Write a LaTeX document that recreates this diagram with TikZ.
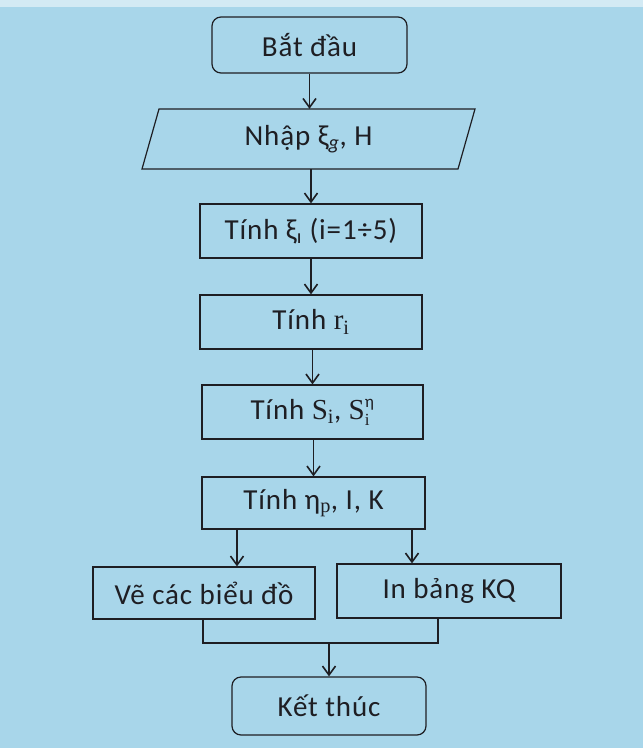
\documentclass[tikz,border=0pt]{standalone}
\usepackage{fontspec}
\setmainfont{Carlito}
\newfontfamily\serifm{Liberation Serif}
\usetikzlibrary{arrows.meta}
\definecolor{bg}{RGB}{168,214,234}
\definecolor{ink}{RGB}{30,30,35}
\newcommand{\sbs}[1]{\textsubscript{#1}}
\newcommand{\smallt}[1]{\hbox{\fontsize{17}{17}\selectfont #1}}
\begin{document}
\begin{tikzpicture}[x=1pt,y=-1pt,
  box/.style={draw=ink,line width=1.2pt,minimum width=#1,inner sep=0pt,
    font=\fontsize{29}{32}\selectfont\addfontfeature{LetterSpace=3},text=ink},
  box/.default=222pt,
  term/.style={box=#1,rounded corners=9pt},
  arr/.style={draw=ink,line width=1.6pt,-{Straight Barb[length=9pt,width=13pt,line width=1.6pt]}},
  ln/.style={draw=ink,line width=1.3pt}]
\useasboundingbox (0,0) rectangle (643,748);
\fill[bg] (0,0) rectangle (643,748);
\fill[white,opacity=0.5] (0,0) rectangle (643,7);

\node[term=195pt,minimum height=56pt] (start) at (309.5,45) {Bắt đầu};
\node[inner sep=0pt,minimum width=316pt,minimum height=60pt,
  font=\fontsize{29}{32}\selectfont\addfontfeature{LetterSpace=3},text=ink] (input) at (308.5,139) {Nhập ξ\sbs{\itshape g}, H};
\draw[ln,line width=1.2pt] (159,109) -- (475,109) -- (458,169) -- (142,169) -- cycle;
\node[box=222pt,minimum height=54pt] (xi) at (311,231) {Tính ξ\sbs{ı} (i=1÷5)};
\node[box=222pt,minimum height=54pt] (r) at (311,322) {Tính {\serifm r}\sbs{\serifm i}};
\node[box=221pt,minimum height=54pt] (S) at (312.5,412) {Tính {\serifm S}\sbs{\serifm i}, $\hbox{\serifm S}^{\smallt{η}}_{\smallt{\serifm i}}$};
\node[box=223pt,minimum height=52pt] (eta) at (313.5,503) {Tính η\sbs{\serifm p}, I, K};
\node[box=222pt,minimum height=52pt] (ve) at (204,593) {Vẽ các biểu đồ};
\node[box=224pt,minimum height=54pt] (in) at (449,591) {In bảng KQ};
\node[term=194pt,minimum height=58pt] (end) at (329,706) {Kết thúc};

\draw[arr] (start.south) -- (start.south |- input.north);
\draw[arr] (xi.north |- input.south) -- (xi.north);
\draw[arr] (r.north |- xi.south) -- (r.north);
\draw[arr] (S.north |- r.south) -- (S.north);
\draw[arr] (eta.north |- S.south) -- (eta.north);
\draw[arr] ([xshift=33pt]ve.north |- eta.south) -- ([xshift=33pt]ve.north);
\draw[arr] ([xshift=-37pt]in.north |- eta.south) -- ([xshift=-37pt]in.north);
\coordinate (mL) at (203,643);
\coordinate (mR) at (438,643);
\draw[ln] (mL |- ve.south) -- (mL) -- (mR) -- (mR |- in.south);
\draw[arr] (end.north |- mL) -- (end.north);
\end{tikzpicture}
\end{document}
